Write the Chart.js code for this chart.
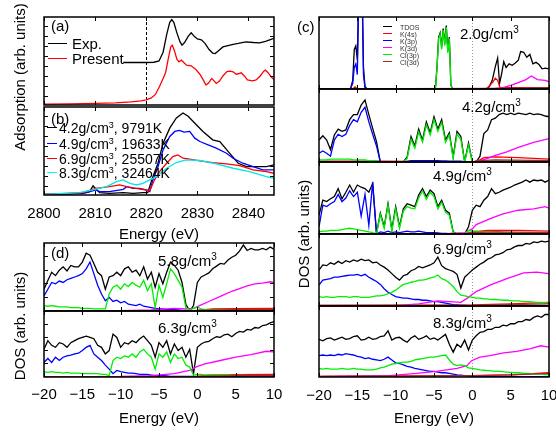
<!DOCTYPE html>
<html>
<head>
<meta charset="utf-8">
<script src="https://cdn.jsdelivr.net/npm/chart.js@4.4.1/dist/chart.umd.min.js"></script>
<style>
  html, body { margin: 0; padding: 0; background: #fff; }
  body { width: 556px; height: 432px; position: relative; overflow: hidden;
         font-family: "Liberation Sans", Arial, sans-serif; color: #000; }
  canvas { position: absolute; }
  .t { position: absolute; z-index: 2; white-space: nowrap; line-height: 1; font-size: 15px; transform: translateY(-50%); }
  .t .s { position: relative; top: -6px; font-size: 10px; }
  .m { transform: translate(-50%, -50%); }
  .rot { position: absolute; z-index: 2; white-space: nowrap; line-height: 1; font-size: 15px;
         transform: translate(-50%, -50%) rotate(-90deg); }
  .key { position: absolute; z-index: 2; height: 0; border-top: 1.5px solid; }
  .sm { font-size: 14px; }
  .sm .s { top: -5px; font-size: 9px; }
  .tiny { font-size: 7px; color: #333; }
</style>
</head>
<body>
<!-- left column -->
<div class="rot" style="left:19px;top:77px">Adsorption (arb. units)</div>
<div class="t" style="left:51px;top:25px">(a)</div>
<div class="key" style="left:48px;top:43px;width:19px;border-color:#000"></div>
<div class="t" style="left:72px;top:43px">Exp.</div>
<div class="key" style="left:48px;top:58px;width:19px;border-color:#f00"></div>
<div class="t" style="left:72px;top:58px">Present</div>

<div class="t" style="left:51px;top:118px">(b)</div>
<div class="key" style="left:47px;top:127px;width:10px;border-color:#000"></div>
<div class="t sm" style="left:59px;top:128px">4.2g/cm<span class="s">3</span>, 9791K</div>
<div class="key" style="left:47px;top:143px;width:10px;border-color:#00f"></div>
<div class="t sm" style="left:59px;top:144px">4.9g/cm<span class="s">3</span>, 19633K</div>
<div class="key" style="left:47px;top:158px;width:10px;border-color:#f00"></div>
<div class="t sm" style="left:59px;top:159px">6.9g/cm<span class="s">3</span>, 25507K</div>
<div class="key" style="left:47px;top:172px;width:10px;border-color:#0ff"></div>
<div class="t sm" style="left:59px;top:173px">8.3g/cm<span class="s">3</span>, 32464K</div>
<div class="t m" style="left:159px;top:233px">Energy (eV)</div>

<div class="rot" style="left:19px;top:326px">DOS (arb. units)</div>
<div class="t" style="left:51px;top:252px">(d)</div>
<div class="t" style="left:158px;top:260px">5.8g/cm<span class="s">3</span></div>
<div class="t" style="left:158px;top:327px">6.3g/cm<span class="s">3</span></div>
<div class="t m" style="left:159px;top:417px">Energy (eV)</div>

<!-- right column -->
<div class="t" style="left:297px;top:26px">(c)</div>
<div class="rot" style="left:303px;top:234px">DOS (arb. units)</div>
<div class="key" style="left:383px;top:26px;width:9px;border-color:#000"></div>
<div class="t tiny" style="left:400px;top:27px">TDOS</div>
<div class="key" style="left:383px;top:33px;width:9px;border-color:#f00"></div>
<div class="t tiny" style="left:400px;top:34px">K(4s)</div>
<div class="key" style="left:383px;top:40px;width:9px;border-color:#00f"></div>
<div class="t tiny" style="left:400px;top:41px">K(3p)</div>
<div class="key" style="left:383px;top:47px;width:9px;border-color:#f0f"></div>
<div class="t tiny" style="left:400px;top:48px">K(3d)</div>
<div class="key" style="left:383px;top:54px;width:9px;border-color:#00ee00"></div>
<div class="t tiny" style="left:400px;top:55px">Cl(3p)</div>
<div class="key" style="left:383px;top:61px;width:9px;border-color:#a52a2a"></div>
<div class="t tiny" style="left:400px;top:62px">Cl(3d)</div>
<div class="t" style="left:460px;top:33px">2.0g/cm<span class="s">3</span></div>
<div class="t" style="left:462px;top:106px">4.2g/cm<span class="s">3</span></div>
<div class="t" style="left:433px;top:175px">4.9g/cm<span class="s">3</span></div>
<div class="t" style="left:433px;top:248px">6.9g/cm<span class="s">3</span></div>
<div class="t" style="left:433px;top:322px">8.3g/cm<span class="s">3</span></div>
<div class="t m" style="left:434px;top:417px">Energy (eV)</div>

<script>
// ---------- tick values ----------
const XAS_TICKS = [2800, 2810, 2820, 2830, 2840];
const E_TICKS = [-20, -15, -10, -5, 0, 5, 10];
const AB_YTICKS = [10.2, 21.6, 33, 44.3, 55.7, 67, 78.4, 89.8];
const D_YTICKS = [21, 41, 61, 81];

// ---------- (a) XANES ----------
const expE = [2815.5, 2818, 2820, 2821.5, 2822.5, 2823.3, 2824, 2824.6, 2825, 2825.4, 2826, 2826.6, 2827, 2827.5, 2828.2, 2828.8, 2829.4, 2830, 2830.8, 2831.5, 2832.3, 2833, 2833.5, 2834.2, 2835, 2836, 2837, 2838, 2839.5, 2841, 2842.2, 2843.5, 2844.8, 2845];
const expV = [48.3, 48.3, 48.3, 48.6, 50, 60, 80, 94, 97, 94, 82, 72, 68, 71, 78, 82, 78, 75, 74, 70, 63, 59, 58.5, 62, 66, 67.5, 69, 70, 71.7, 71, 70.6, 72.5, 75.5, 76];
const calcE = [2800, 2805, 2810, 2814, 2817, 2819, 2820, 2821, 2821.8, 2822.6, 2823.3, 2823.8, 2824.3, 2824.8, 2825.1, 2825.5, 2826, 2826.4, 2826.9, 2827.4, 2827.9, 2828.8, 2829.6, 2830.5, 2831.2, 2831.7, 2832.2, 2832.8, 2833.2, 2833.7, 2834.3, 2835, 2835.8, 2836.4, 2837, 2837.6, 2838, 2838.6, 2839.2, 2839.8, 2840.8, 2841.5, 2842.3, 2843, 2843.3, 2843.8, 2844.2, 2844.6, 2845];
const calcV = [1, 1.3, 1.8, 2.5, 3.5, 4.8, 5.8, 8, 12, 21, 30, 37, 52, 66, 68, 62, 52, 49, 51, 48, 45.3, 44.5, 41, 35, 28, 22.6, 25, 30.2, 28, 24.5, 27, 33, 38, 38.5, 37.7, 35, 35.5, 36.6, 33, 28.5, 27.5, 28.5, 33, 38.5, 39.6, 37, 34, 31, 29];

// ---------- (b) XANES vs density ----------
const b42E = [2800, 2804.4, 2807.6, 2808.9, 2809.6, 2810.2, 2810.9, 2812.8, 2815.5, 2817.4, 2819.4, 2820.3, 2821.3, 2822.3, 2823.3, 2824.6, 2825.9, 2827.2, 2828.2, 2829.8, 2831.1, 2833, 2834.4, 2836.3, 2838, 2839.6, 2840.9, 2843.5, 2845];
const b42V = [0.8, 1.1, 1.9, 3.8, 10.3, 6.5, 2.7, 1.9, 2.7, 1.9, 2.7, 2.7, 20.9, 36.1, 58.9, 76, 87.5, 93.2, 89.4, 79.8, 72.2, 62.7, 60.8, 47.5, 36.1, 32.3, 32.3, 32.3, 34.2];
const b49E = [2800, 2805, 2808.3, 2810.2, 2810.9, 2812.8, 2815.5, 2816.2, 2817.4, 2818.7, 2820, 2820.7, 2821.3, 2822.3, 2823.3, 2824.6, 2825.6, 2826.5, 2827.4, 2828.5, 2829.5, 2830.5, 2832.1, 2833.7, 2835.7, 2837, 2838.9, 2840.9, 2842.8, 2845];
const b49V = [0.8, 1.5, 2.7, 5.7, 3.8, 3.8, 6.5, 9.5, 7.6, 7.6, 5.7, 3.8, 17, 32, 51.3, 66.5, 72.2, 73.4, 71.5, 72.2, 64.6, 60.8, 57, 53.2, 47.5, 41.8, 36.1, 32.3, 28.5, 28.5];
const b69E = [2800, 2807.6, 2810.2, 2812.8, 2814.8, 2816.2, 2818, 2820, 2820.7, 2821.6, 2822.6, 2824, 2825.2, 2826.2, 2827.2, 2828.5, 2830.5, 2833, 2835.7, 2838.3, 2840.9, 2843.5, 2845];
const b69V = [0.8, 2.7, 7.6, 9.5, 11.4, 9.5, 7.6, 5.7, 4.9, 17, 26.6, 36.1, 43.7, 45.6, 41.8, 40.7, 38.8, 36.9, 35.4, 33.5, 28.5, 26.6, 24.7];
const b83E = [2800, 2806.9, 2809.6, 2812.2, 2814.2, 2815.5, 2816.8, 2818.1, 2819.4, 2820.7, 2822, 2824, 2825.9, 2827.8, 2830.5, 2833.7, 2837, 2840.2, 2843.5, 2845];
const b83V = [0.8, 2.7, 5.7, 9.5, 15.2, 17.1, 13.3, 11.4, 13.3, 17.1, 20.9, 30.4, 36.9, 39.9, 39.2, 35.4, 30.4, 26.6, 20.9, 19];

// ---------- DOS energy grid (eV) ----------
const EG = [-20, -19.5, -19, -18.5, -18, -17.5, -17, -16.5, -16, -15.5,
  -15, -14.5, -14, -13.5, -13, -12.5, -12, -11.5, -11, -10.5,
  -10, -9.5, -9, -8.5, -8, -7.5, -7, -6.5, -6, -5.5,
  -5, -4.5, -4, -3.5, -3, -2.5, -2, -1.5, -1, -0.5,
  0, 0.5, 1, 1.5, 2, 2.5, 3, 3.5, 4, 4.5,
  5, 5.5, 6, 6.5, 7, 7.5, 8, 8.5, 9, 9.5, 10];

// ---------- (d) 5.8 g/cm3 ----------
const d58Tdos = [32, 45, 57, 52, 60, 65, 59, 67, 65, 65, 72, 85, 82, 70, 57, 52, 32, 50, 52, 57, 52, 62, 65, 57, 60, 52, 65, 47, 57, 35, 55, 40, 57, 72, 67, 60, 42, 10, 0, 8, 42, 50, 53, 56, 62, 66, 70, 69, 75, 79, 82, 88, 97, 89, 92, 90, 90, 92, 90, 94, 91];
const d58K3p = [22, 32, 42, 40, 44, 42, 46, 48, 50, 52, 55, 62, 72, 55, 38, 25, 15, 20, 14, 16, 12, 14, 10, 9, 8, 10, 7, 6, 5, 4, 3, 3, 2, 2, 2, 1.5, 1, 1, 0.5, 0.5, 0.5, 0.5, 0.5, 0.5, 0.5, 0.5, 0.5, 0.5, 0.5, 0.5, 0.5, 0.5, 0.5, 0.5, 0.5, 0.5, 0.5, 0.5, 0.5, 0.5, 0.5];
const d58Cl3p = [8, 7, 8, 7, 6, 6, 6, 5, 5, 5, 4, 4, 4, 3, 3, 3, 3, 25, 35, 38, 32, 40, 36, 42, 38, 35, 45, 30, 40, 5, 38, 20, 40, 62, 55, 45, 35, 5, 1, 4, 6, 3, 2, 2, 2, 2, 2, 2, 2, 2, 2, 2, 2, 1.5, 1.5, 1.5, 1.5, 1.5, 1.5, 1.5, 1.5];
const d58K3dE = [-20, -10, -6, -3, -1.5, -0.5, 0.5, 1.5, 2.5, 3.5, 4.5, 5.5, 6.5, 7.5, 8.5, 9.5, 10];
const d58K3dV = [0.5, 0.5, 1.5, 4, 3, 4, 9, 14, 19, 24, 29, 33, 37, 40, 41, 43, 42];
const d58K4sE = [-20, -1, 0, 2, 5, 10];
const d58K4sV = [0.3, 0.3, 1, 3, 3.5, 4];
const d58Cl3dE = [-20, -1, 0, 5, 10];
const d58Cl3dV = [0.3, 0.3, 1, 2, 2.5];

// ---------- (d) 6.3 g/cm3 ----------
const d63Tdos = [42, 55, 48, 45, 52, 50, 45, 52, 55, 58, 60, 62, 60, 58, 48, 45, 35, 40, 65, 60, 45, 52, 50, 55, 52, 58, 62, 55, 48, 30, 52, 45, 55, 35, 50, 40, 45, 30, 42, 5, 45, 50, 53, 54, 58, 61, 60, 64, 65, 61, 66, 69, 68, 72, 71, 75, 74, 78, 79, 82, 84];
const d63K3p = [22, 28, 22, 30, 25, 30, 32, 33, 35, 36, 40, 45, 48, 35, 30, 25, 18, 12, 5, 10, 8, 7, 6, 6, 5, 4, 4, 4, 3, 2, 2, 2, 1.5, 1, 1, 1, 1, 1, 1, 1, 0.5, 0.5, 0.5, 0.5, 0.5, 0.5, 0.5, 0.5, 0.5, 0.5, 0.5, 0.5, 0.5, 0.5, 0.5, 0.5, 0.5, 0.5, 0.5, 0.5, 0.5];
const d63Cl3p = [8, 7, 8, 7, 7, 6, 7, 6, 6, 6, 5, 5, 5, 5, 5, 4, 4, 2, 25, 30, 28, 32, 30, 35, 30, 38, 42, 35, 30, 12, 35, 30, 38, 22, 35, 28, 30, 18, 15, 3, 4, 4, 3, 3, 3, 3, 3, 3, 3, 2.5, 2.5, 2.5, 2.5, 2, 2, 2, 2, 2, 2, 2, 2];
const d63K3dE = [-20, -10, -6, -3, -1, 0, 1, 3, 5, 7, 9, 10];
const d63K3dV = [0.5, 0.8, 2, 5, 10, 16, 20, 25, 30, 34, 39, 38];

// ---------- (c) 2.0 g/cm3 ----------
const c20TdosE = [-20, -15.9, -15.6, -15.4, -15.2, -15.0, -14.8, -14.6, -14.4, -14.2, -14.0, -13.7, -5.0, -4.8, -4.6, -4.4, -4.2, -4.0, -3.8, -3.6, -3.4, -3.2, -3.0, -2.8, -2.6, 1.8, 2.2, 2.6, 3.0, 3.3, 3.55, 3.8, 4.1, 4.4, 4.8, 5.2, 5.6, 6.0, 6.3, 6.7, 7.1, 7.5, 7.9, 8.3, 8.7, 9.1, 9.5, 10];
const c20TdosV = [0, 0, 12, 55, 60, 40, 150, 190, 160, 30, 3, 0, 0, 3, 32, 72, 78, 58, 84, 63, 88, 53, 72, 6, 0, 0, 3, 12, 31, 43, 8, 20, 38, 30, 35, 33, 36, 40, 52, 51, 44, 48, 35, 37, 34, 28, 29, 28];
const c20K3pE = [-20, -15.9, -15.6, -15.4, -15.2, -15.0, -14.8, -14.6, -14.4, -14.2, -14.0, -13.7, 10];
const c20K3pV = [0, 0, 8, 30, 35, 20, 140, 180, 150, 20, 2, 0, 0];
const c20Cl3pE = [-20, -5.0, -4.8, -4.6, -4.4, -4.2, -4.0, -3.8, -3.6, -3.4, -3.2, -3.0, -2.8, -2.6, 10];
const c20Cl3pV = [0, 0, 2, 30, 70, 76, 55, 82, 60, 86, 50, 70, 5, 0, 0];
const c20K4sE = [-20, -15.6, -15.3, -15.0, 1.8, 2.3, 2.7, 3.0, 3.3, 3.6, 4.5, 10];
const c20K4sV = [0, 0, 3, 0, 0, 5, 10, 15, 12, 2, 2, 2];
const c20K3dE = [-20, 2.5, 4, 5, 6, 7, 7.7, 8.5, 9.5, 10];
const c20K3dV = [0, 0, 2, 5, 9, 13, 18, 13, 12, 10];
const c20Cl3dE = [-20, 3, 10];
const c20Cl3dV = [0, 1, 2];

// ---------- (c) 4.2 g/cm3 ----------
const c42Tdos = [30, 36, 30, 17, 37, 45, 42, 44, 58, 65, 65, 78, 85, 65, 46, 28, 0, 0, 0, 0, 0, 0, 0, 7, 35, 22, 45, 30, 55, 40, 62, 45, 58, 30, 40, 7, 42, 35, 0, 26, 0, 0, 8, 39, 44, 58, 60, 65, 67, 65, 67, 65, 67, 66, 65, 67, 65, 66, 65, 63, 62];
const c42K3p = [12, 15, 12, 8, 30, 38, 35, 38, 50, 58, 55, 68, 75, 55, 38, 22, 0, 0, 0, 0, 0, 0, 0, 1, 2, 2, 2, 2, 2, 2, 2, 2, 1.5, 1.5, 1, 1, 1, 1, 0, 0.5, 0, 0, 0.5, 0.5, 0.5, 0.5, 0.5, 0.5, 0.5, 0.5, 0.5, 0.5, 0.5, 0.5, 0.5, 0.5, 0.5, 0.5, 0.5, 0.5, 0.5];
const c42Cl3p = [3, 3, 3, 4, 4, 4, 4, 4, 4, 3, 3, 3, 3, 2, 2, 2, 0, 0, 0, 0, 0, 0, 0, 5, 31, 19, 41, 27, 51, 37, 58, 42, 54, 27, 37, 5, 38, 31, 0, 23, 0, 0, 1, 2, 2, 1.5, 1.5, 1.5, 1.5, 1.5, 1.5, 1.5, 1.5, 1, 1, 1, 1, 1, 1, 1, 1];
const c42K3dE = [-20, 0, 1, 2, 3, 4.5, 6, 8, 10];
const c42K3dV = [0, 0, 2, 5, 9, 14, 20, 27, 32];
const c42K4sE = [-20, -12, 0, 1, 1.5, 3, 6, 10];
const c42K4sV = [1, 1, 0, 3, 6, 7, 6, 4];
const c42Cl3dE = [-20, 0, 1, 3, 10];
const c42Cl3dV = [0.5, 0, 2, 3, 2];

// ---------- (c) 4.9 g/cm3 ----------
const c49Tdos = [26, 47, 45, 49, 52, 63, 49, 58, 68, 58, 68, 65, 63, 58, 70, 1, 29, 10, 42, 6, 38, 10, 35, 42, 40, 38, 54, 63, 52, 61, 56, 38, 47, 33, 29, 3, 0, 0, 0, 10, 33, 40, 38, 47, 52, 63, 56, 58, 61, 63, 65, 68, 70, 72, 75, 72, 75, 74, 75, 72, 75];
const c49K3p = [10, 40, 38, 42, 45, 55, 45, 50, 60, 52, 58, 25, 55, 12, 72, 0, 3, 2, 4, 2, 3, 2, 3, 4, 3, 3, 4, 3, 2, 2, 2, 1.5, 1, 1, 0.5, 0.5, 0, 0, 0, 0.5, 0.5, 0.5, 0.5, 0.5, 0.5, 0.5, 0.5, 0.5, 0.5, 0.5, 0.5, 0.5, 0.5, 0.5, 0.5, 0.5, 0.5, 0.5, 0.5, 0.5, 0.5];
const c49Cl3p = [3, 4, 4, 5, 5, 5, 6, 7, 8, 7, 6, 5, 4, 3, 2, 0, 27, 8, 40, 4, 35, 8, 32, 38, 36, 35, 50, 60, 48, 58, 52, 35, 44, 30, 26, 2, 0, 0, 0, 5, 4, 4, 3, 3, 3, 2.5, 2.5, 2.5, 2, 2, 2, 2, 2, 2, 1.5, 1.5, 1.5, 1.5, 1.5, 1.5, 1.5];
const c49K3dE = [-20, -3, -1, 0, 0.5, 2.5, 4, 6, 8, 9.5, 10];
const c49K3dV = [0, 1, 2, 7, 13, 22, 28, 33, 35, 38, 36];
const c49K4sE = [-20, -1, 0, 2, 6, 10];
const c49K4sV = [0.3, 0.3, 3, 5, 5, 4];
const c49Cl3dE = [-20, -1, 0, 3, 10];
const c49Cl3dV = [0.3, 0.3, 2, 3, 2];

// ---------- (c) 6.9 g/cm3 ----------
const c69Tdos = [50, 57, 56, 60, 58, 62, 59, 63, 61, 64, 62, 65, 63, 64, 60, 61, 57, 54, 50, 45, 40, 36, 42, 44, 49, 51, 55, 53, 55, 57, 60, 68, 56, 52, 50, 48, 44, 25, 40, 45, 50, 54, 58, 61, 65, 67, 71, 72, 74, 78, 79, 82, 84, 84, 87, 86, 89, 88, 90, 89, 90];
const c69K3p = [29, 36, 37, 38, 40, 40, 41, 42, 43, 43, 44, 42, 44, 40, 37, 34, 30, 24, 19, 16, 13, 12, 11, 11, 10, 9, 9, 8, 8, 7, 6, 6, 5, 4, 3, 2, 1.5, 1, 1, 0.5, 0.5, 0.5, 0.5, 0.5, 0.5, 0.5, 0.5, 0.5, 0.5, 0.5, 0.5, 0.5, 0.5, 0.5, 0.5, 0.5, 0.5, 0.5, 0.5, 0.5, 0.5];
const c69Cl3p = [13, 12, 13, 12, 12, 13, 13, 13, 12, 13, 13, 12, 12, 12, 13, 14, 14, 15, 17, 19, 22, 26, 30, 31, 33, 34, 36, 36, 37, 39, 40, 43, 38, 36, 32, 27, 20, 15, 14, 13, 12, 11, 11, 10, 10, 9, 9, 8.5, 8, 8, 7.5, 7, 7, 6.5, 6, 6, 5.5, 5, 5, 4.5, 4];
const c69K3dE = [-20, -10, -7, -4.5, -3, -1.5, -0.5, 0.5, 2.3, 4.5, 6.7, 8.4, 10];
const c69K3dV = [0.3, 0.5, 3, 7, 6, 5, 12, 20, 29, 38, 46, 47, 45];
const c69K4sE = [-20, 0, 5, 10];
const c69K4sV = [1, 1.5, 3, 5];
const c69Cl3dE = [-20, 0, 5, 10];
const c69Cl3dV = [1, 1, 2, 3];

// ---------- (c) 8.3 g/cm3 ----------
const c83Tdos = [53, 51, 54, 55, 52, 54, 56, 53, 54, 57, 58, 52, 53, 56, 53, 54, 57, 58, 65, 52, 55, 56, 52, 49, 55, 58, 53, 55, 58, 53, 55, 52, 56, 60, 46, 35, 46, 42, 52, 38, 52, 58, 63, 64, 67, 67, 70, 70, 73, 72, 75, 75, 78, 78, 81, 80, 84, 86, 84, 88, 88];
const c83K3p = [30, 31, 30, 31, 30, 32, 31, 33, 32, 31, 29, 28, 26, 27, 25, 24, 23, 25, 28, 24, 20, 19, 17, 15, 14, 12, 11, 10, 9, 8, 8, 7, 6, 6, 5, 4, 3, 2.5, 2, 1.5, 1, 0.8, 0.8, 0.6, 0.6, 0.5, 0.5, 0.5, 0.5, 0.5, 0.5, 0.5, 0.5, 0.5, 0.5, 0.5, 0.5, 0.5, 0.5, 0.5, 0.5];
const c83Cl3p = [12, 11, 12, 11, 11, 11, 12, 11, 11, 12, 11, 11, 10, 10, 10, 11, 13, 14, 16, 18, 19, 20, 21, 21, 22, 24, 25, 26, 27, 28, 28, 29, 30, 31, 24, 18, 16, 17, 16, 13, 12, 11, 10, 9.5, 9, 8.5, 8, 8, 7.5, 7, 6.5, 6, 6, 5.5, 5, 5, 4.5, 4, 4, 3.5, 3];
const c83K3dE = [-20, -10.8, -7.3, -4.7, -2, -0.7, -0.1, 1, 2.3, 4.1, 5.8, 7.6, 8.9, 10];
const c83K3dV = [0.5, 2, 5, 8, 12, 16, 23, 28, 30, 34, 36, 40, 44, 42];
const c83K4sE = [-20, -5, 0, 5, 10];
const c83K4sV = [1, 1.5, 2, 3, 6];
const c83Cl3dE = [-20, -5, 0, 5, 10];
const c83Cl3dV = [1, 1.5, 2, 3, 5];

// ---------- styling ----------
const FONT = '"Liberation Sans", Arial, sans-serif';
const COL = {tdos: '#000000', k4s: '#ff0000', k3p: '#0000ff', k3d: '#ff00ff', cl3p: '#00ee00', cl3d: '#a52a2a', cyan: '#00e8e8'};

function series(xs, ys, color, w) {
  return {
    data: xs.map((x, i) => ({x: x, y: ys[i]})),
    borderColor: color, borderWidth: w || 1.3,
    pointRadius: 0, fill: false, tension: 0
  };
}

// gnuplot order: TDOS first (bottom), Cl(3d) last (top); chart.js draws index 0 last
function dos(tdos, k4s, k3p, k3d, cl3p, cl3d) {
  return [cl3d, cl3p, k3d, k3p, k4s, tdos];
}

// frame with inward ticks, plus an optional vertical reference line
function frame(xTicks, yTicks, vline) {
  return {
    id: 'frame',
    beforeDatasetsDraw(chart) {
      if (!vline) return;
      const {ctx, chartArea: a} = chart;
      const px = Math.round(chart.scales.x.getPixelForValue(vline.at)) + 0.5;
      ctx.save();
      ctx.strokeStyle = vline.color;
      ctx.lineWidth = 1;
      ctx.setLineDash(vline.dash);
      ctx.beginPath();
      ctx.moveTo(px, a.top);
      ctx.lineTo(px, a.bottom);
      ctx.stroke();
      ctx.restore();
    },
    afterDatasetsDraw(chart) {
      const {ctx, chartArea: a, scales} = chart;
      ctx.save();
      ctx.strokeStyle = '#000';
      ctx.lineWidth = 1;
      ctx.beginPath();
      xTicks.forEach(v => {
        const p = Math.round(scales.x.getPixelForValue(v)) + 0.5;
        ctx.moveTo(p, a.bottom); ctx.lineTo(p, a.bottom - 4);
        ctx.moveTo(p, a.top); ctx.lineTo(p, a.top + 4);
      });
      yTicks.forEach(v => {
        const p = Math.round(scales.y.getPixelForValue(v)) + 0.5;
        ctx.moveTo(a.left, p); ctx.lineTo(a.left + 4, p);
        ctx.moveTo(a.right, p); ctx.lineTo(a.right - 4, p);
      });
      ctx.stroke();
      ctx.lineWidth = 1.5;
      ctx.strokeRect(a.left, a.top, a.right - a.left, a.bottom - a.top);
      ctx.restore();
    }
  };
}

function makePanel(box, datasets, o) {
  // generous side padding: chart.js adds tick padding to the label overhang
  const padL = 32, padR = 32, padT = 4;
  const axisH = o.labels ? 30 : 0;
  const padB = o.labels ? 0 : 4;
  const W = box.w + padL + padR, H = box.h + padT + padB + axisH;
  const cv = document.createElement('canvas');
  cv.width = W; cv.height = H;
  cv.style.left = (box.l - padL) + 'px';
  cv.style.top = (box.t - padT) + 'px';
  document.body.appendChild(cv);
  return new Chart(cv, {
    type: 'line',
    data: {datasets: datasets},
    options: {
      responsive: false, animation: false, devicePixelRatio: 1, events: [],
      layout: {padding: {left: padL, right: padR, top: padT, bottom: padB}},
      plugins: {legend: {display: false}, tooltip: {enabled: false}},
      scales: {
        x: {
          type: 'linear', min: o.xmin, max: o.xmax, display: !!o.labels,
          grid: {display: false, drawTicks: false}, border: {display: false},
          ticks: {
            stepSize: o.step, includeBounds: false, autoSkip: false, maxRotation: 0, minRotation: 0,
            padding: o.pad || 10, color: '#000', font: {family: FONT, size: 15},
            callback: v => String(v).replace('-', '\u2212')
          },
          afterFit: s => { s.height = axisH; }
        },
        y: {min: 0, max: 100, display: false}
      }
    },
    plugins: [frame(o.xTicks, o.yTicks, o.vline)]
  });
}

const XAS = {xmin: 2800, xmax: 2845, step: 10, xTicks: XAS_TICKS};
const DOSX = {xmin: -20, xmax: 10, step: 5, xTicks: E_TICKS};
const ZERO = {at: 0, color: '#999', dash: [1, 2]};

// (a)
makePanel({l: 44, t: 17, w: 230, h: 88},
  [series(calcE, calcV, COL.k4s), series(expE, expV, COL.tdos)],
  Object.assign({yTicks: AB_YTICKS, vline: {at: 2820, color: '#000', dash: [3, 2]}}, XAS));

// (b)
makePanel({l: 44, t: 107, w: 230, h: 88},
  [series(b83E, b83V, COL.cyan), series(b69E, b69V, COL.k4s), series(b49E, b49V, COL.k3p), series(b42E, b42V, COL.tdos)],
  Object.assign({yTicks: AB_YTICKS, labels: true}, XAS));

// (d)
makePanel({l: 44, t: 243, w: 230, h: 68},
  dos(series(EG, d58Tdos, COL.tdos), series(d58K4sE, d58K4sV, COL.k4s), series(EG, d58K3p, COL.k3p),
      series(d58K3dE, d58K3dV, COL.k3d), series(EG, d58Cl3p, COL.cl3p), series(d58Cl3dE, d58Cl3dV, COL.cl3d)),
  Object.assign({yTicks: D_YTICKS}, DOSX));
makePanel({l: 44, t: 311, w: 230, h: 66},
  dos(series(EG, d63Tdos, COL.tdos), series(d58K4sE, d58K4sV, COL.k4s), series(EG, d63K3p, COL.k3p),
      series(d63K3dE, d63K3dV, COL.k3d), series(EG, d63Cl3p, COL.cl3p), series(d58Cl3dE, d58Cl3dV, COL.cl3d)),
  Object.assign({yTicks: D_YTICKS, labels: true, pad: 9}, DOSX));

// (c)
makePanel({l: 319, t: 17, w: 230, h: 72},
  dos(series(c20TdosE, c20TdosV, COL.tdos), series(c20K4sE, c20K4sV, COL.k4s), series(c20K3pE, c20K3pV, COL.k3p),
      series(c20K3dE, c20K3dV, COL.k3d), series(c20Cl3pE, c20Cl3pV, COL.cl3p), series(c20Cl3dE, c20Cl3dV, COL.cl3d)),
  Object.assign({yTicks: [], vline: ZERO}, DOSX));
makePanel({l: 319, t: 89, w: 230, h: 73},
  dos(series(EG, c42Tdos, COL.tdos), series(c42K4sE, c42K4sV, COL.k4s), series(EG, c42K3p, COL.k3p),
      series(c42K3dE, c42K3dV, COL.k3d), series(EG, c42Cl3p, COL.cl3p), series(c42Cl3dE, c42Cl3dV, COL.cl3d)),
  Object.assign({yTicks: [], vline: ZERO}, DOSX));
makePanel({l: 319, t: 162, w: 230, h: 72},
  dos(series(EG, c49Tdos, COL.tdos), series(c49K4sE, c49K4sV, COL.k4s), series(EG, c49K3p, COL.k3p),
      series(c49K3dE, c49K3dV, COL.k3d), series(EG, c49Cl3p, COL.cl3p), series(c49Cl3dE, c49Cl3dV, COL.cl3d)),
  Object.assign({yTicks: [], vline: ZERO}, DOSX));
makePanel({l: 319, t: 234, w: 230, h: 72},
  dos(series(EG, c69Tdos, COL.tdos), series(c69K4sE, c69K4sV, COL.k4s), series(EG, c69K3p, COL.k3p),
      series(c69K3dE, c69K3dV, COL.k3d), series(EG, c69Cl3p, COL.cl3p), series(c69Cl3dE, c69Cl3dV, COL.cl3d)),
  Object.assign({yTicks: [], vline: ZERO}, DOSX));
makePanel({l: 319, t: 306, w: 230, h: 71},
  dos(series(EG, c83Tdos, COL.tdos), series(c83K4sE, c83K4sV, COL.k4s), series(EG, c83K3p, COL.k3p),
      series(c83K3dE, c83K3dV, COL.k3d), series(EG, c83Cl3p, COL.cl3p), series(c83Cl3dE, c83Cl3dV, COL.cl3d)),
  Object.assign({yTicks: [], vline: ZERO, labels: true}, DOSX));
</script>
</body>
</html>
